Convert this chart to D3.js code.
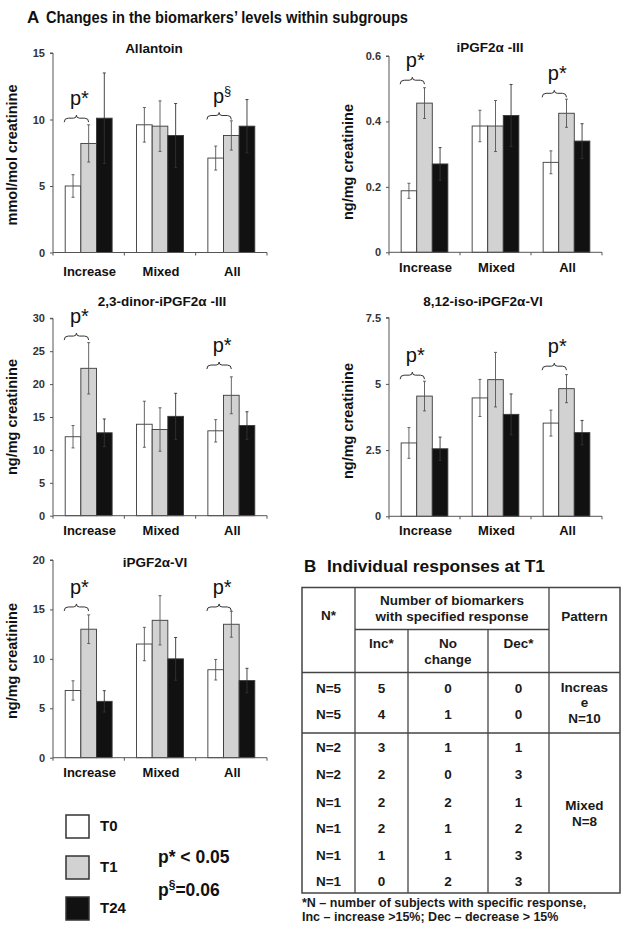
<!DOCTYPE html>
<html><head><meta charset="utf-8">
<script src="https://cdn.jsdelivr.net/npm/d3@7"></script>
<style>
html,body{margin:0;padding:0;background:#fff;}
svg text{font-family:"Liberation Sans",Arial,Helvetica,sans-serif;}
</style></head>
<body>
<svg id="fig" width="630" height="933"></svg>
<script>
// ---------- DATA ----------
const categories = ["Increase", "Mixed", "All"];
const seriesNames = ["T0", "T1", "T24"];

// means [category][series], errors likewise
const allantoinMean = [[5.0, 8.2, 10.1], [9.6, 9.5, 8.8], [7.1, 8.8, 9.5]];
const allantoinErr  = [[0.85, 1.4, 3.4], [1.3, 1.9, 2.4], [0.9, 1.1, 2.0]];
const allantoinTicks = [0, 5, 10, 15];

const iPGF2aIIIMean = [[0.188, 0.456, 0.27], [0.386, 0.386, 0.418], [0.275, 0.425, 0.34]];
const iPGF2aIIIErr  = [[0.023, 0.047, 0.05], [0.048, 0.078, 0.095], [0.035, 0.043, 0.053]];
const iPGF2aIIITicks = [0, 0.2, 0.4, 0.6];

const dinorMean = [[12.0, 22.4, 12.6], [13.9, 13.1, 15.1], [12.9, 18.3, 13.7]];
const dinorErr  = [[1.7, 3.9, 2.1], [3.5, 3.3, 3.5], [1.7, 2.8, 2.1]];
const dinorTicks = [0, 5, 10, 15, 20, 25, 30];

const isoMean = [[2.77, 4.54, 2.55], [4.47, 5.16, 3.85], [3.52, 4.82, 3.16]];
const isoErr  = [[0.58, 0.56, 0.44], [0.7, 1.03, 0.77], [0.49, 0.53, 0.46]];
const isoTicks = [0, 2.5, 5, 7.5];

const viMean = [[6.8, 13.0, 5.7], [11.5, 13.9, 10.0], [8.9, 13.5, 7.8]];
const viErr  = [[0.98, 1.45, 1.08], [1.69, 2.49, 2.16], [1.04, 1.31, 1.24]];
const viTicks = [0, 5, 10, 15, 20];

// significance brackets: category, label, level (data units)
const allantoinSig = [["Increase", "*", 10.1], ["All", "§", 10.3]];
const iPGF2aIIISig = [["Increase", "*", 0.526], ["All", "*", 0.486]];
const dinorSig = [["Increase", "*", 27.3], ["All", "*", 22.9]];
const isoSig = [["Increase", "*", 5.33], ["All", "*", 5.67]];
const viSig = [["Increase", "*", 15.25], ["All", "*", 15.25]];

// table B
const tableN   = ["N=5", "N=5", "N=2", "N=2", "N=1", "N=1", "N=1", "N=1"];
const tableInc = [5, 4, 3, 2, 2, 2, 1, 0];
const tableNo  = [0, 1, 1, 0, 2, 1, 1, 2];
const tableDec = [0, 0, 1, 3, 1, 2, 3, 3];

// ---------- LAYOUT ----------
const colors = {T0: "#ffffff", T1: "#d2d2d2", T24: "#111111"};
const panels = [
  {title: "Allantoin", mean: allantoinMean, err: allantoinErr, ticks: allantoinTicks, sig: allantoinSig,
   yLabel: "mmol/mol creatinine", xr: [53, 267], yr: [252.5, 53], titleX: 154, titleY: 53, catY: 276, labY: 155},
  {title: "iPGF2\u03b1 -III", mean: iPGF2aIIIMean, err: iPGF2aIIIErr, ticks: iPGF2aIIITicks, sig: iPGF2aIIISig,
   yLabel: "ng/mg creatinine", xr: [389, 602], yr: [252.3, 56], titleX: 490, titleY: 52, catY: 272, labY: 162},
  {title: "2,3-dinor-iPGF2\u03b1 -III", mean: dinorMean, err: dinorErr, ticks: dinorTicks, sig: dinorSig,
   yLabel: "ng/mg creatinine", xr: [53, 267], yr: [515.7, 318.3], titleX: 162, titleY: 306, catY: 535, labY: 417},
  {title: "8,12-iso-iPGF2\u03b1-VI", mean: isoMean, err: isoErr, ticks: isoTicks, sig: isoSig,
   yLabel: "ng/mg creatinine", xr: [389, 602], yr: [516.3, 317.7], titleX: 483, titleY: 306, catY: 535, labY: 421},
  {title: "iPGF2\u03b1-VI", mean: viMean, err: viErr, ticks: viTicks, sig: viSig,
   yLabel: "ng/mg creatinine", xr: [53, 267], yr: [757.7, 560], titleX: 155, titleY: 567, catY: 777, labY: 661}
];

const svg = d3.select("#fig");
const axisCol = "#555";

svg.append("text").attr("x", 27).attr("y", 23)
  .attr("font-size", 17).attr("font-weight", "bold").attr("fill", "#111").text("A");
svg.append("text").attr("x", 46).attr("y", 23)
  .attr("font-size", 17).attr("font-weight", "bold").attr("fill", "#111")
  .attr("textLength", 362).attr("lengthAdjust", "spacingAndGlyphs")
  .text("Changes in the biomarkers\u2019 levels within subgroups");

panels.forEach(p => {
  const g = svg.append("g");
  const x0 = d3.scaleBand().domain(categories).range(p.xr).paddingInner(0).paddingOuter(0);
  const x1 = d3.scaleBand().domain(seriesNames).range([0, x0.bandwidth()]).paddingInner(0).paddingOuter(0.78);
  const y = d3.scaleLinear().domain([0, d3.max(p.ticks)]).range(p.yr);
  const bw = x1.bandwidth();

  g.append("text").attr("x", p.titleX).attr("y", p.titleY).attr("text-anchor", "middle")
    .attr("font-size", 13.5).attr("font-weight", "bold").attr("fill", "#111").text(p.title);

  g.append("text").attr("transform", `translate(${p.xr[0] - 36},${p.labY}) rotate(-90)`)
    .attr("text-anchor", "middle").attr("font-size", 14.5).attr("font-weight", "bold").attr("fill", "#111")
    .text(p.yLabel);

  categories.forEach((c, ci) => {
    seriesNames.forEach((s, si) => {
      const v = p.mean[ci][si];
      g.append("rect")
        .attr("x", x0(c) + x1(s)).attr("y", y(v))
        .attr("width", bw).attr("height", y(0) - y(v))
        .attr("fill", colors[s]).attr("stroke", "#3a3a3a").attr("stroke-width", 0.9);
    });
  });
  categories.forEach((c, ci) => {
    seriesNames.forEach((s, si) => {
      const v = p.mean[ci][si], e = p.err[ci][si];
      const cx = x0(c) + x1(s) + bw / 2;
      const col = s === "T24" ? "#333" : "#555";
      g.append("line").attr("x1", cx).attr("x2", cx).attr("y1", y(v + e)).attr("y2", y(Math.max(0, v - e)))
        .attr("stroke", col).attr("stroke-width", 0.9);
      [v + e, v - e].forEach(t => {
        g.append("line").attr("x1", cx - 1.5).attr("x2", cx + 1.5).attr("y1", y(t)).attr("y2", y(t))
          .attr("stroke", col).attr("stroke-width", 0.9);
      });
    });
  });

  const yAxis = d3.axisLeft(y).tickValues(p.ticks).tickSize(3).tickPadding(5).tickFormat(d3.format(""));
  const ya = g.append("g").attr("transform", `translate(${p.xr[0]},0)`).call(yAxis);
  ya.select(".domain").attr("stroke", axisCol).attr("d", `M-3,${p.yr[1]}H0V${p.yr[0]}`);
  ya.selectAll(".tick line").attr("stroke", axisCol);
  ya.selectAll(".tick text").attr("font-size", 11).attr("font-weight", "bold").attr("fill", "#333")
    .attr("font-family", "Liberation Sans, Arial, sans-serif");

  const xa = g.append("g").attr("transform", `translate(0,${y(0)})`);
  xa.append("line").attr("x1", p.xr[0]).attr("x2", p.xr[1]).attr("stroke", axisCol);
  const bounds = categories.map(c => x0(c)).concat([x0(categories[2]) + x0.bandwidth()]);
  bounds.forEach(b => xa.append("line").attr("x1", b).attr("x2", b).attr("y1", 0).attr("y2", 3).attr("stroke", axisCol));
  categories.forEach(c => {
    g.append("text").attr("x", x0(c) + x0.bandwidth() / 2 + 1).attr("y", p.catY).attr("text-anchor", "middle")
      .attr("font-size", 13).attr("font-weight", "bold").attr("fill", "#111").text(c);
  });

  p.sig.forEach(([c, mark, lvl]) => {
    const xl = x0(c) + x1("T0") - 1, xr = x0(c) + x1("T1") + bw / 2, xm = (xl + xr) / 2, yy = y(lvl);
    g.append("path")
      .attr("d", `M${xl},${yy + 4}Q${xl},${yy} ${xl + 4},${yy}L${xm - 3},${yy}Q${xm},${yy} ${xm},${yy - 3}Q${xm},${yy} ${xm + 3},${yy}L${xr - 4},${yy}Q${xr},${yy} ${xr},${yy + 4}`)
      .attr("fill", "none").attr("stroke", "#333").attr("stroke-width", 1);
    const t = g.append("text").attr("x", xm + 3).attr("y", yy - 13).attr("text-anchor", "middle")
      .attr("font-size", 20).attr("fill", "#111");
    t.append("tspan").text("p");
    if (mark === "*") t.append("tspan").text("*");
    else t.append("tspan").attr("font-size", 13).attr("dy", -8).text(mark);
  });
});

// ---------- LEGEND ----------
const legY = [815, 856, 897];
seriesNames.forEach((s, i) => {
  svg.append("rect").attr("x", 66).attr("y", legY[i]).attr("width", 23).attr("height", 23)
    .attr("fill", colors[s]).attr("stroke", "#333").attr("stroke-width", 1.5);
  svg.append("text").attr("x", 100).attr("y", legY[i] + 16).attr("font-size", 15).attr("font-weight", "bold")
    .attr("fill", "#111").text(s);
});
svg.append("text").attr("x", 158).attr("y", 863).attr("font-size", 17.5).attr("font-weight", "bold").attr("fill", "#111")
  .text("p* < 0.05");
const pt2 = svg.append("text").attr("x", 158).attr("y", 896).attr("font-size", 17.5).attr("font-weight", "bold").attr("fill", "#111");
pt2.append("tspan").text("p");
pt2.append("tspan").attr("font-size", 12).attr("dy", -7).text("§");
pt2.append("tspan").attr("dy", 7).text("=0.06");

// ---------- TABLE B ----------
svg.append("text").attr("x", 304).attr("y", 572)
  .attr("font-size", 17).attr("font-weight", "bold").attr("fill", "#111").text("B");
svg.append("text").attr("x", 327).attr("y", 572)
  .attr("font-size", 17).attr("font-weight", "bold").attr("fill", "#111")
  .attr("textLength", 218).attr("lengthAdjust", "spacingAndGlyphs")
  .text("Individual responses at T1");

const tb = svg.append("g");
const colX = [302, 355, 408, 488, 549, 620];
const tTop = 587.5, tBot = 893, hdrSub = 629.5, hdrBot = 672.5, grpSep = 733;
const lc = "#444";
tb.append("rect").attr("x", colX[0]).attr("y", tTop).attr("width", colX[5] - colX[0]).attr("height", tBot - tTop)
  .attr("fill", "none").attr("stroke", lc).attr("stroke-width", 1.5);
[1, 4].forEach(i => tb.append("line").attr("x1", colX[i]).attr("x2", colX[i]).attr("y1", tTop).attr("y2", tBot).attr("stroke", lc).attr("stroke-width", 1.3));
[2, 3].forEach(i => tb.append("line").attr("x1", colX[i]).attr("x2", colX[i]).attr("y1", hdrSub).attr("y2", tBot).attr("stroke", lc).attr("stroke-width", 1.3));
tb.append("line").attr("x1", colX[1]).attr("x2", colX[4]).attr("y1", hdrSub).attr("y2", hdrSub).attr("stroke", lc).attr("stroke-width", 1.3);
[hdrBot, grpSep].forEach(yv => tb.append("line").attr("x1", colX[0]).attr("x2", colX[5]).attr("y1", yv).attr("y2", yv).attr("stroke", lc).attr("stroke-width", 1.3));

const colC = d3.range(5).map(i => (colX[i] + colX[i + 1]) / 2);
function tt(x, y, s) {
  tb.append("text").attr("x", x).attr("y", y).attr("text-anchor", "middle")
    .attr("font-size", 13.5).attr("font-weight", "bold").attr("fill", "#1a1a1a").text(s);
}
tt(colC[0], 620, "N*");
tt((colX[1] + colX[4]) / 2, 605, "Number of biomarkers");
tt((colX[1] + colX[4]) / 2, 620.5, "with specified response");
tt(colC[4], 620.5, "Pattern");
tt(colC[1], 648, "Inc*");
tt(colC[2], 648, "No");
tt(colC[2], 663.5, "change");
tt(colC[3], 648, "Dec*");
const rowY = [692.5, 719.3, 751.7, 778.7, 806.5, 833.3, 860, 885.5];
tableN.forEach((n, i) => {
  tt(colC[0], rowY[i], n);
  tt(colC[1], rowY[i], tableInc[i]);
  tt(colC[2], rowY[i], tableNo[i]);
  tt(colC[3], rowY[i], tableDec[i]);
});
tt(colC[4], 692, "Increas");
tt(colC[4], 706.5, "e");
tt(colC[4], 723.3, "N=10");
tt(colC[4], 810, "Mixed");
tt(colC[4], 825.5, "N=8");

const fn = svg.append("g").attr("font-size", 12.5).attr("font-weight", "bold").attr("fill", "#1a1a1a");
fn.append("text").attr("x", 302).attr("y", 906.5).text("*N \u2013 number of subjects with specific response,");
fn.append("text").attr("x", 302).attr("y", 921).text("Inc \u2013 increase >15%; Dec \u2013 decrease > 15%");
</script>
</body></html>
